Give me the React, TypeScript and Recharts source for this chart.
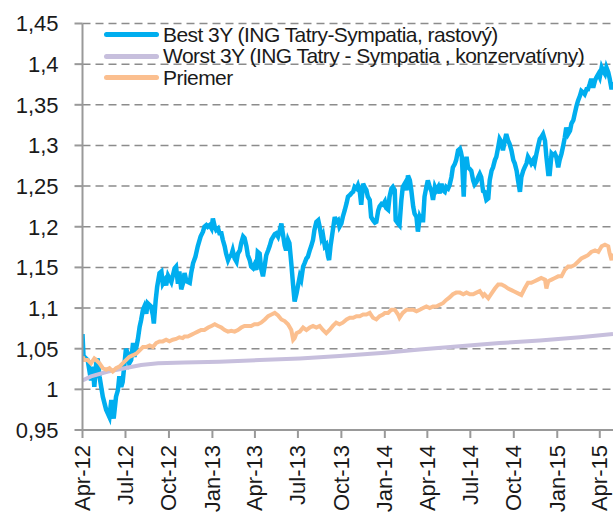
import React from 'react';
import { LineChart, Line, XAxis, YAxis, CartesianGrid } from 'recharts';

// x values are days counted from 1 Apr 2012
const quarterDays = [0, 91, 183, 275, 365, 456, 548, 640, 730, 821, 913, 1005, 1095];
const quarterLabels = [
  'Apr-12', 'Jul-12', 'Oct-12', 'Jan-13', 'Apr-13', 'Jul-13', 'Oct-13',
  'Jan-14', 'Apr-14', 'Jul-14', 'Oct-14', 'Jan-15', 'Apr-15',
];
const lastDay = 1123;
const yTicks = [0.95, 1, 1.05, 1.1, 1.15, 1.2, 1.25, 1.3, 1.35, 1.4, 1.45];

const seriesNames = [
  'Best 3Y (ING Tatry-Sympatia, rastový)',
  'Worst 3Y (ING Tatry - Sympatia , konzervatívny)',
  'Priemer',
];
const seriesColors = ['#00aeef', '#c7bfdd', '#fbbf8f'];

const best: [number, number][] = [
  [0, 1.068], [2, 1.042], [4, 1.04], [11, 1.036], [18, 1.011], [22, 1.028], [25, 1.003], [29, 1.032],
  [32, 1.038], [36, 1.016], [43, 0.991], [50, 0.975], [57, 0.966], [61, 0.987], [66, 0.964], [71, 0.991],
  [75, 0.999], [78, 1.016], [82, 1.003], [85, 1.009], [89, 1.032], [92, 1.05], [96, 1.044], [99, 1.032],
  [103, 1.036], [107, 1.057], [110, 1.04], [114, 1.052], [117, 1.061], [121, 1.077], [124, 1.085], [128, 1.098],
  [131, 1.102], [135, 1.093], [138, 1.106], [145, 1.102], [149, 1.091], [151, 1.081], [155, 1.11], [158, 1.126],
  [163, 1.143], [167, 1.145], [170, 1.13], [174, 1.134], [177, 1.128], [181, 1.14], [188, 1.132], [195, 1.149],
  [198, 1.151], [202, 1.13], [205, 1.145], [209, 1.123], [213, 1.131], [216, 1.143], [220, 1.133], [227, 1.131],
  [230, 1.143], [234, 1.155], [239, 1.163], [244, 1.176], [250, 1.188], [255, 1.194], [258, 1.2], [262, 1.202],
  [265, 1.2], [269, 1.202], [273, 1.198], [276, 1.21], [280, 1.2], [283, 1.196], [287, 1.198], [290, 1.192],
  [294, 1.192], [297, 1.184], [301, 1.176], [304, 1.167], [308, 1.159], [311, 1.163], [315, 1.165], [318, 1.171],
  [322, 1.161], [326, 1.157], [329, 1.167], [333, 1.171], [336, 1.18], [340, 1.188], [343, 1.186], [347, 1.176],
  [350, 1.165], [354, 1.159], [357, 1.151], [361, 1.149], [364, 1.153], [368, 1.147], [371, 1.169], [375, 1.167],
  [378, 1.149], [382, 1.139], [386, 1.153], [389, 1.165], [393, 1.171], [396, 1.176], [400, 1.184], [407, 1.191],
  [410, 1.192], [414, 1.188], [417, 1.194], [421, 1.204], [424, 1.192], [428, 1.177], [431, 1.171], [435, 1.184],
  [438, 1.18], [442, 1.155], [446, 1.127], [449, 1.108], [453, 1.118], [456, 1.127], [460, 1.139], [463, 1.135],
  [467, 1.151], [470, 1.155], [474, 1.161], [477, 1.163], [481, 1.171], [484, 1.176], [488, 1.184], [491, 1.196],
  [495, 1.206], [499, 1.208], [502, 1.2], [506, 1.186], [509, 1.19], [513, 1.176], [516, 1.178], [520, 1.163],
  [522, 1.159], [525, 1.176], [530, 1.196], [534, 1.212], [537, 1.206], [541, 1.208], [544, 1.2], [548, 1.204],
  [551, 1.212], [555, 1.22], [559, 1.229], [562, 1.237], [566, 1.239], [569, 1.241], [573, 1.243], [576, 1.249],
  [580, 1.247], [583, 1.251], [587, 1.243], [590, 1.227], [594, 1.253], [597, 1.249], [601, 1.245], [604, 1.237],
  [608, 1.233], [611, 1.212], [615, 1.208], [619, 1.205], [622, 1.206], [626, 1.22], [629, 1.225], [633, 1.228],
  [636, 1.227], [640, 1.231], [643, 1.223], [647, 1.221], [650, 1.237], [654, 1.247], [657, 1.249], [661, 1.245],
  [663, 1.208], [668, 1.204], [671, 1.202], [675, 1.233], [678, 1.249], [682, 1.253], [686, 1.245], [689, 1.263],
  [693, 1.257], [696, 1.245], [700, 1.225], [703, 1.216], [707, 1.212], [710, 1.194], [714, 1.212], [717, 1.208],
  [721, 1.208], [724, 1.237], [728, 1.249], [731, 1.257], [735, 1.249], [739, 1.243], [742, 1.233], [746, 1.249],
  [749, 1.245], [753, 1.249], [756, 1.241], [760, 1.253], [763, 1.245], [767, 1.243], [770, 1.249], [774, 1.247],
  [777, 1.251], [781, 1.261], [784, 1.273], [788, 1.277], [791, 1.282], [795, 1.294], [799, 1.296], [801, 1.292],
  [803, 1.286], [807, 1.237], [809, 1.269], [813, 1.286], [816, 1.273], [820, 1.271], [823, 1.269], [827, 1.257],
  [830, 1.252], [834, 1.255], [837, 1.26], [841, 1.265], [844, 1.261], [848, 1.244], [851, 1.243], [855, 1.233],
  [859, 1.235], [862, 1.257], [866, 1.269], [869, 1.273], [873, 1.282], [876, 1.286], [880, 1.298], [883, 1.308],
  [887, 1.304], [890, 1.294], [894, 1.306], [897, 1.314], [901, 1.306], [904, 1.302], [908, 1.294], [912, 1.282],
  [915, 1.278], [919, 1.269], [922, 1.257], [926, 1.243], [929, 1.261], [933, 1.269], [936, 1.273], [940, 1.278],
  [943, 1.286], [947, 1.282], [950, 1.278], [954, 1.282], [957, 1.278], [961, 1.29], [964, 1.298], [968, 1.308],
  [971, 1.31], [975, 1.314], [979, 1.306], [982, 1.286], [986, 1.265], [989, 1.265], [993, 1.29], [996, 1.288],
  [1000, 1.29], [1003, 1.286], [1007, 1.273], [1010, 1.282], [1014, 1.29], [1017, 1.298], [1021, 1.31], [1024, 1.322],
  [1028, 1.314], [1032, 1.318], [1035, 1.327], [1039, 1.331], [1042, 1.339], [1046, 1.349], [1049, 1.355], [1053, 1.361],
  [1056, 1.367], [1060, 1.365], [1063, 1.363], [1067, 1.369], [1070, 1.369], [1074, 1.376], [1077, 1.382], [1081, 1.371],
  [1085, 1.38], [1088, 1.384], [1092, 1.388], [1095, 1.384], [1099, 1.396], [1102, 1.392], [1106, 1.388], [1109, 1.396],
  [1113, 1.39], [1116, 1.382], [1120, 1.369], [1123, 1.378],
];

const worst: [number, number][] = [
  [0, 1.011], [18, 1.016], [54, 1.022], [89, 1.026], [124, 1.03], [160, 1.032], [216, 1.033], [290, 1.034],
  [375, 1.036], [460, 1.038], [544, 1.041], [640, 1.045], [714, 1.049], [798, 1.053], [883, 1.057], [968, 1.06],
  [1053, 1.064], [1123, 1.068],
];

const priemer: [number, number][] = [
  [0, 1.04], [4, 1.036], [11, 1.036], [18, 1.032], [25, 1.038], [29, 1.036], [36, 1.032], [43, 1.026],
  [50, 1.024], [57, 1.026], [64, 1.022], [71, 1.026], [78, 1.028], [85, 1.032], [92, 1.036], [99, 1.04],
  [107, 1.042], [114, 1.044], [121, 1.048], [128, 1.052], [135, 1.052], [142, 1.054], [149, 1.052], [156, 1.057],
  [163, 1.059], [170, 1.059], [177, 1.061], [184, 1.059], [191, 1.061], [198, 1.062], [205, 1.064], [212, 1.063],
  [216, 1.065], [223, 1.065], [230, 1.067], [237, 1.069], [244, 1.071], [251, 1.073], [258, 1.073], [266, 1.076],
  [273, 1.078], [280, 1.08], [287, 1.078], [294, 1.076], [301, 1.073], [308, 1.071], [315, 1.072], [322, 1.071],
  [329, 1.073], [336, 1.076], [343, 1.078], [350, 1.078], [357, 1.078], [364, 1.08], [371, 1.08], [378, 1.082],
  [386, 1.086], [393, 1.09], [400, 1.092], [407, 1.094], [414, 1.091], [421, 1.086], [428, 1.084], [435, 1.08],
  [442, 1.073], [446, 1.061], [449, 1.063], [453, 1.069], [460, 1.071], [467, 1.076], [474, 1.073], [481, 1.076],
  [488, 1.078], [495, 1.076], [502, 1.078], [509, 1.073], [516, 1.069], [523, 1.073], [530, 1.078], [537, 1.082],
  [544, 1.08], [551, 1.082], [559, 1.086], [566, 1.088], [573, 1.088], [580, 1.09], [587, 1.09], [594, 1.092],
  [601, 1.092], [608, 1.094], [615, 1.088], [622, 1.086], [629, 1.09], [636, 1.092], [640, 1.094], [647, 1.094],
  [654, 1.098], [661, 1.098], [668, 1.092], [671, 1.088], [678, 1.094], [686, 1.098], [693, 1.098], [700, 1.098],
  [707, 1.096], [714, 1.098], [721, 1.1], [728, 1.102], [735, 1.1], [742, 1.102], [749, 1.102], [756, 1.104],
  [763, 1.106], [770, 1.11], [777, 1.113], [784, 1.117], [791, 1.119], [799, 1.119], [806, 1.117], [813, 1.119],
  [820, 1.117], [827, 1.117], [834, 1.119], [841, 1.121], [848, 1.115], [851, 1.117], [859, 1.112], [866, 1.118],
  [873, 1.124], [880, 1.129], [887, 1.129], [894, 1.127], [901, 1.124], [908, 1.122], [915, 1.12], [922, 1.118],
  [929, 1.116], [936, 1.124], [943, 1.131], [950, 1.131], [957, 1.133], [964, 1.135], [971, 1.137], [979, 1.135],
  [982, 1.124], [986, 1.133], [993, 1.135], [1000, 1.137], [1007, 1.139], [1014, 1.139], [1021, 1.147], [1028, 1.151],
  [1035, 1.151], [1042, 1.153], [1049, 1.157], [1056, 1.161], [1063, 1.163], [1070, 1.165], [1077, 1.169], [1085, 1.171],
  [1092, 1.169], [1099, 1.176], [1106, 1.178], [1113, 1.176], [1116, 1.167], [1120, 1.159], [1123, 1.167],
];

const toRows = (pts: [number, number][]) => pts.map(([day, value]) => ({ day, value }));

const FONT = '"Liberation Sans", Arial, Helvetica, sans-serif';
const axisGray = '#999999';

const XTick = ({ x, y, payload }: any) => {
  const label = quarterLabels[quarterDays.indexOf(payload.value)];
  const ty = y + 1;
  return (
    <text
      x={x}
      y={ty}
      transform={`rotate(-90 ${x} ${ty})`}
      textAnchor="end"
      dominantBaseline="central"
      fill="#1a1a1a"
      fontSize={22}
      fontFamily={FONT}
    >
      {label}
    </text>
  );
};

const formatY = (v: number) => String(v).replace('.', ',');

export default function App() {
  const seriesData = [toRows(best), toRows(worst), toRows(priemer)];

  return (
    <div style={{ position: 'absolute', left: 0, top: 0, width: 613, height: 520, background: '#fff', fontFamily: FONT }}>
      <LineChart width={613} height={520} margin={{ top: 23.5, right: 0, bottom: 0, left: 0 }}>
        <CartesianGrid
          vertical={false}
          stroke="#8c8c8c"
          strokeWidth={1.5}
          strokeDasharray="8 5"
        />
        <XAxis
          type="number"
          dataKey="day"
          domain={[0, lastDay]}
          ticks={quarterDays}
          interval={0}
          height={90}
          allowDataOverflow
          stroke={axisGray}
          strokeWidth={2}
          tickSize={8}
          tickMargin={6}
          tick={<XTick />}
        />
        <YAxis
          type="number"
          domain={[0.95, 1.45]}
          ticks={yTicks}
          interval={0}
          width={82.5}
          allowDataOverflow
          stroke={axisGray}
          strokeWidth={2}
          tickSize={8}
          tickMargin={16}
          tickFormatter={formatY}
          tick={{ fill: '#1a1a1a', fontSize: 22, fontFamily: FONT }}
        />
        {seriesData.map((rows, i) => (
          <Line
            key={seriesNames[i]}
            data={rows}
            dataKey="value"
            name={seriesNames[i]}
            type="linear"
            stroke={seriesColors[i]}
            strokeWidth={i === 0 ? 4.5 : 4}
            dot={false}
            activeDot={false}
            isAnimationActive={false}
          />
        ))}
      </LineChart>
      <div style={{ position: 'absolute', left: 104, top: 24, fontSize: 21, letterSpacing: -0.55, color: '#1a1a1a' }}>
        {seriesNames.map((name, i) => (
          <div key={name} style={{ display: 'flex', alignItems: 'center', height: 21.5, whiteSpace: 'nowrap' }}>
            <span style={{ display: 'inline-block', width: 55, height: 5, borderRadius: 3, background: seriesColors[i], marginRight: 4 }} />
            <span>{name}</span>
          </div>
        ))}
      </div>
    </div>
  );
}
